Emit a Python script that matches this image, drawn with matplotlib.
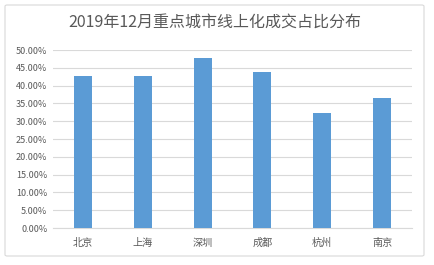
import matplotlib
matplotlib.use("Agg")
import matplotlib.pyplot as plt
from matplotlib.patches import FancyBboxPatch
from matplotlib.ticker import FuncFormatter, MultipleLocator

plt.rcParams['font.family'] = ['Noto Sans CJK SC', 'DejaVu Sans']

cities = ["北京", "上海", "深圳", "成都", "杭州", "南京"]
shares = [42.7, 42.6, 47.8, 43.9, 32.3, 36.6]
title = "2019年12月重点城市线上化成交占比分布"

fig = plt.figure(figsize=(4.34, 2.65), dpi=100)

# chart border
border = FancyBboxPatch((5 / 434, 9 / 265), 419 / 434, 251 / 265,
                        boxstyle="round,pad=0,rounding_size=0.005",
                        transform=fig.transFigure, fill=False,
                        edgecolor="#d9d9d9", linewidth=0.8)
fig.patches.append(border)

ax = fig.add_axes([53 / 434, 1 - 228 / 265, 359 / 434, 178 / 265])
x = range(len(cities))
ax.bar(x, shares, width=0.3, color="#5b9bd5", zorder=3)

ax.set_xlim(-0.5, len(cities) - 0.5)
ax.set_ylim(0, 50)
ax.yaxis.set_major_locator(MultipleLocator(5))
ax.yaxis.set_major_formatter(FuncFormatter(lambda v, p: "%.2f%%" % v))
ax.set_xticks(list(x))
ax.set_xticklabels(cities)

ax.grid(axis="y", color="#d9d9d9", linewidth=0.8, zorder=0)
for s in ["top", "right", "left"]:
    ax.spines[s].set_visible(False)
ax.spines["bottom"].set_color("#d9d9d9")
ax.spines["bottom"].set_linewidth(0.8)
ax.tick_params(axis="y", length=0, labelsize=6.5, colors="#595959", pad=4)
ax.tick_params(axis="x", length=0, labelsize=7.3, colors="#595959", pad=7)

fig.text(215 / 434, 1 - 23 / 265, title, ha="center", va="center",
         fontsize=11.5, color="#595959")

plt.savefig("out.png", dpi=100)
plt.close()
